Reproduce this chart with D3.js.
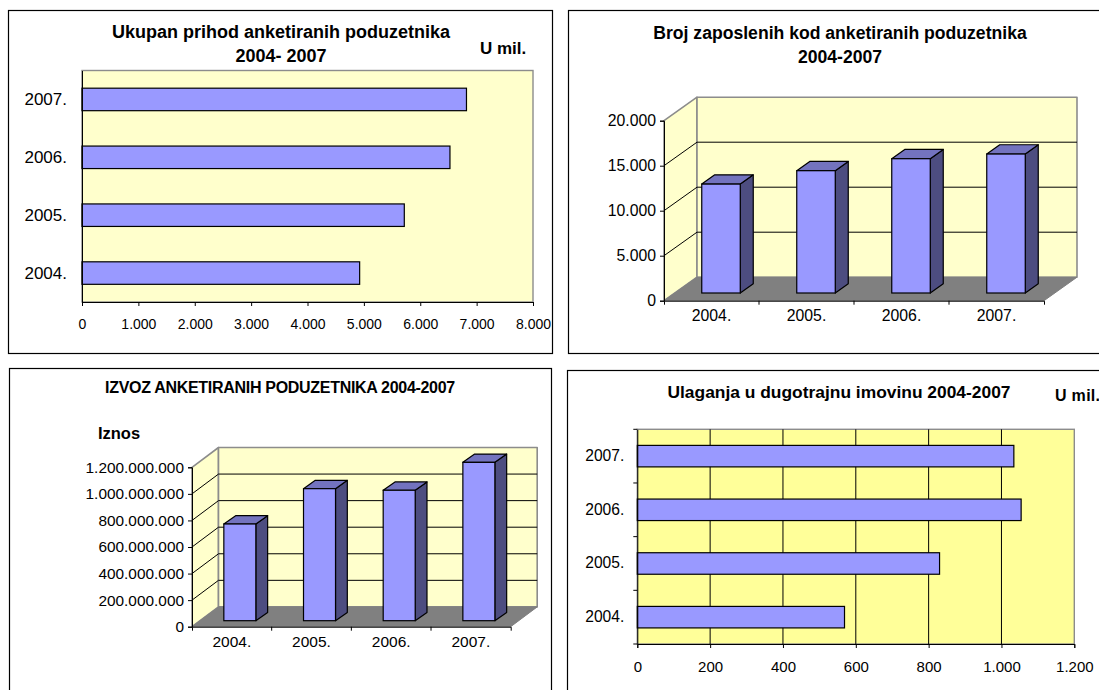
<!DOCTYPE html>
<html><head><meta charset="utf-8">
<script src="https://cdn.jsdelivr.net/npm/d3@7"></script>
<style>html,body{margin:0;padding:0;background:#fff;overflow:hidden}svg{display:block}text{font-family:"Liberation Sans",Arial,sans-serif;fill:#000}</style>
</head><body><svg id="c" width="1099" height="690"></svg>
<script>
const years = ["2004.","2005.","2006.","2007."];
const revenue = [4925,5717,6527,6820];
const revenueTicks = [0,1000,2000,3000,4000,5000,6000,7000,8000];
const employees = [12100,13590,14920,15440];
const employeeTicks = [0,5000,10000,15000,20000];
const exportsValue = [728000000,994000000,982000000,1192000000];
const exportTicks = [0,200000000,400000000,600000000,800000000,1000000000,1200000000];
const investment = [569,830,1054,1034];
const investmentTicks = [0,200,400,600,800,1000,1200];

const BAR="#9999FF", SIDE="#4D4D80", TOP="#7373BF", FLOOR="#808080", WALL="#8C8C8C";
const fmt = d3.formatLocale({decimal:",",thousands:".",grouping:[3],currency:["",""]}).format(",d");
const svg = d3.select("#c");

function frame(x,y,w,h){svg.append("rect").attr("x",x+.5).attr("y",y+.5).attr("width",w).attr("height",h).attr("fill","#fff").attr("stroke","#000").attr("stroke-width",1.2);}
function label(t,x,y,size,opt={}){const e=svg.append("text").attr("x",x).attr("y",y).attr("font-size",size).attr("text-anchor",opt.anchor||"middle").attr("font-weight",opt.bold?"bold":"normal").text(t);if(opt.ls!=null)e.attr("letter-spacing",opt.ls);return e;}
function styleAxis(g,color,size){g.selectAll(".domain").attr("stroke",color).attr("stroke-width",1);g.selectAll(".tick line").attr("stroke",color);g.selectAll("text").attr("font-size",size).style("font-family",'"Liberation Sans",Arial,sans-serif').attr("fill","#000");}

function hbar(o){
  const x=d3.scaleLinear().domain(o.dom).range(o.xr);
  const y=d3.scaleBand().domain(years.slice().reverse()).range(o.yr);
  svg.append("rect").attr("x",o.xr[0]).attr("y",o.yr[0]).attr("width",o.xr[1]-o.xr[0]).attr("height",o.yr[1]-o.yr[0]).attr("fill",o.bg).attr("stroke",WALL).attr("stroke-width",1.4);
  if(o.grid) svg.append("g").selectAll("line").data(o.ticks.slice(1,-1)).join("line")
    .attr("x1",d=>x(d)).attr("x2",d=>x(d)).attr("y1",o.yr[0]).attr("y2",o.yr[1]).attr("stroke","#000").attr("stroke-width",1);
  svg.append("g").selectAll("rect").data(years.map((c,i)=>({c,v:o.vals[i]}))).join("rect")
    .attr("x",o.xr[0]).attr("width",d=>x(d.v)-o.xr[0])
    .attr("y",d=>y(d.c)+(y.bandwidth()-o.bh)/2).attr("height",o.bh)
    .attr("fill",BAR).attr("stroke","#000").attr("stroke-width",1.2);
  const ax=svg.append("g").attr("transform",`translate(0,${o.yr[1]})`).call(d3.axisBottom(x).tickValues(o.ticks).tickFormat(fmt).tickSize(4).tickPadding(o.xpad));
  styleAxis(ax,"#000",o.xsize);
  const ay=svg.append("g").attr("transform",`translate(${o.xr[0]},0)`).call(d3.axisLeft(y).tickSize(0).tickPadding(o.ypad));
  styleAxis(ay,"#000",o.ysize);
  if(o.grid){
    svg.append("g").selectAll("line").data(d3.range(5)).join("line")
      .attr("x1",o.xr[0]-4).attr("x2",o.xr[0]).attr("y1",i=>o.yr[0]+i*y.step()).attr("y2",i=>o.yr[0]+i*y.step()).attr("stroke","#000");
  }
}

function col3d(o){
  const x=d3.scaleBand().domain(years).range(o.xr);
  const y=d3.scaleLinear().domain(o.dom).range(o.yr);
  const [dx,dy]=o.depth, X0=o.xr[0], X1=o.xr[1], Y0=o.yr[0], Y1=o.yr[1];
  const poly=(pts,f,s,w=1)=>svg.append("polygon").attr("points",pts.map(p=>p.join(",")).join(" ")).attr("fill",f).attr("stroke",s).attr("stroke-width",w).attr("stroke-linejoin","round");
  poly([[X0,Y0],[X0+dx,Y0-dy],[X0+dx,Y1-dy],[X0,Y1]],"#FFFFCC",WALL,1.6);
  poly([[X0+dx,Y0-dy],[X1+dx,Y0-dy],[X1+dx,Y1-dy],[X0+dx,Y1-dy]],"#FFFFCC",WALL,1.6);
  poly([[X0,Y0],[X1,Y0],[X1+dx,Y0-dy],[X0+dx,Y0-dy]],FLOOR,FLOOR);
  svg.append("g").selectAll("polyline").data(o.ticks.slice(1,-1)).join("polyline")
    .attr("points",d=>`${X0},${y(d)} ${X0+dx},${y(d)-dy} ${X1+dx},${y(d)-dy}`)
    .attr("fill","none").attr("stroke","#000").attr("stroke-width",1);
  const [ox,oy]=o.off,[bx,by]=o.box,bw=o.bw;
  years.forEach((c,i)=>{
    const l=x(c)+x.bandwidth()/2+ox-bw/2, r=l+bw, t=y(o.vals[i])-oy, b=Y0-oy;
    poly([[r,t],[r+bx,t-by],[r+bx,b-by],[r,b]],SIDE,"#000",1.2);
    poly([[l,t],[l+bx,t-by],[r+bx,t-by],[r,t]],TOP,"#000",1.2);
    svg.append("rect").attr("x",l).attr("y",t).attr("width",bw).attr("height",b-t).attr("fill",BAR).attr("stroke","#000").attr("stroke-width",1.2);
  });
  const ax=svg.append("g").attr("transform",`translate(0,${Y0})`).call(d3.axisBottom(x).tickSizeInner(0).tickSizeOuter(4).tickPadding(o.xpad));
  styleAxis(ax,"#000",o.xsize);
  ax.selectAll(".tick line").remove();
  svg.append("g").selectAll("line").data(years.slice(1)).join("line").attr("x1",d=>x(d)).attr("x2",d=>x(d)).attr("y1",Y0).attr("y2",Y0+4).attr("stroke","#000");
  const ay=svg.append("g").attr("transform",`translate(${X0},0)`).call(d3.axisLeft(y).tickValues(o.ticks).tickFormat(fmt).tickSize(4).tickPadding(o.ypad));
  styleAxis(ay,"#000",o.ysize);
}

/* Panel 1 */
frame(8,10,544,343);
label("Ukupan prihod anketiranih poduzetnika",281,38,18,{bold:true});
label("2004- 2007",281,62,18,{bold:true});
label("U mil.",480,54,17,{anchor:"start",bold:true});
hbar({vals:revenue,dom:[0,8000],ticks:revenueTicks,xr:[82,533],yr:[70.5,302],bh:22.5,bg:"#FFFFCC",xsize:14,ysize:17,xpad:13,ypad:15});

/* Panel 2 */
frame(568,10,540,343);
label("Broj zaposlenih kod anketiranih poduzetnika",840,39,17.6,{bold:true});
label("2004-2007",840,63,17.6,{bold:true});
col3d({vals:employees,dom:[0,20000],ticks:employeeTicks,xr:[664,1044],yr:[300.7,120.7],depth:[33,23.5],off:[9.5,7.7],box:[13,9.3],bw:38.5,xsize:15.8,ysize:15.8,xpad:9,ypad:4});

/* Panel 3 */
frame(9,368,542,340);
label("IZVOZ ANKETIRANIH PODUZETNIKA 2004-2007",280,393,16,{bold:true,ls:-.3});
label("Iznos",119,439,16.5,{bold:true});
col3d({vals:exportsValue,dom:[0,1200000000],ticks:exportTicks,xr:[192,510.7],yr:[626.7,467.3],depth:[26.5,19.8],off:[8,6],box:[11.8,8.3],bw:32,xsize:15.5,ysize:15.4,xpad:9,ypad:4});

/* Panel 4 */
frame(567,370,540,340);
label("Ulaganja u dugotrajnu imovinu 2004-2007",839,398,17.4,{bold:true});
label("U mil.",1055,400.5,16,{anchor:"start",bold:true,ls:.3});
hbar({vals:investment,dom:[0,1200],ticks:investmentTicks,xr:[637.3,1074.3],yr:[429.3,644],bh:21.5,bg:"#FFFF99",grid:true,xsize:15,ysize:15.6,xpad:13,ypad:13});
</script></body></html>
